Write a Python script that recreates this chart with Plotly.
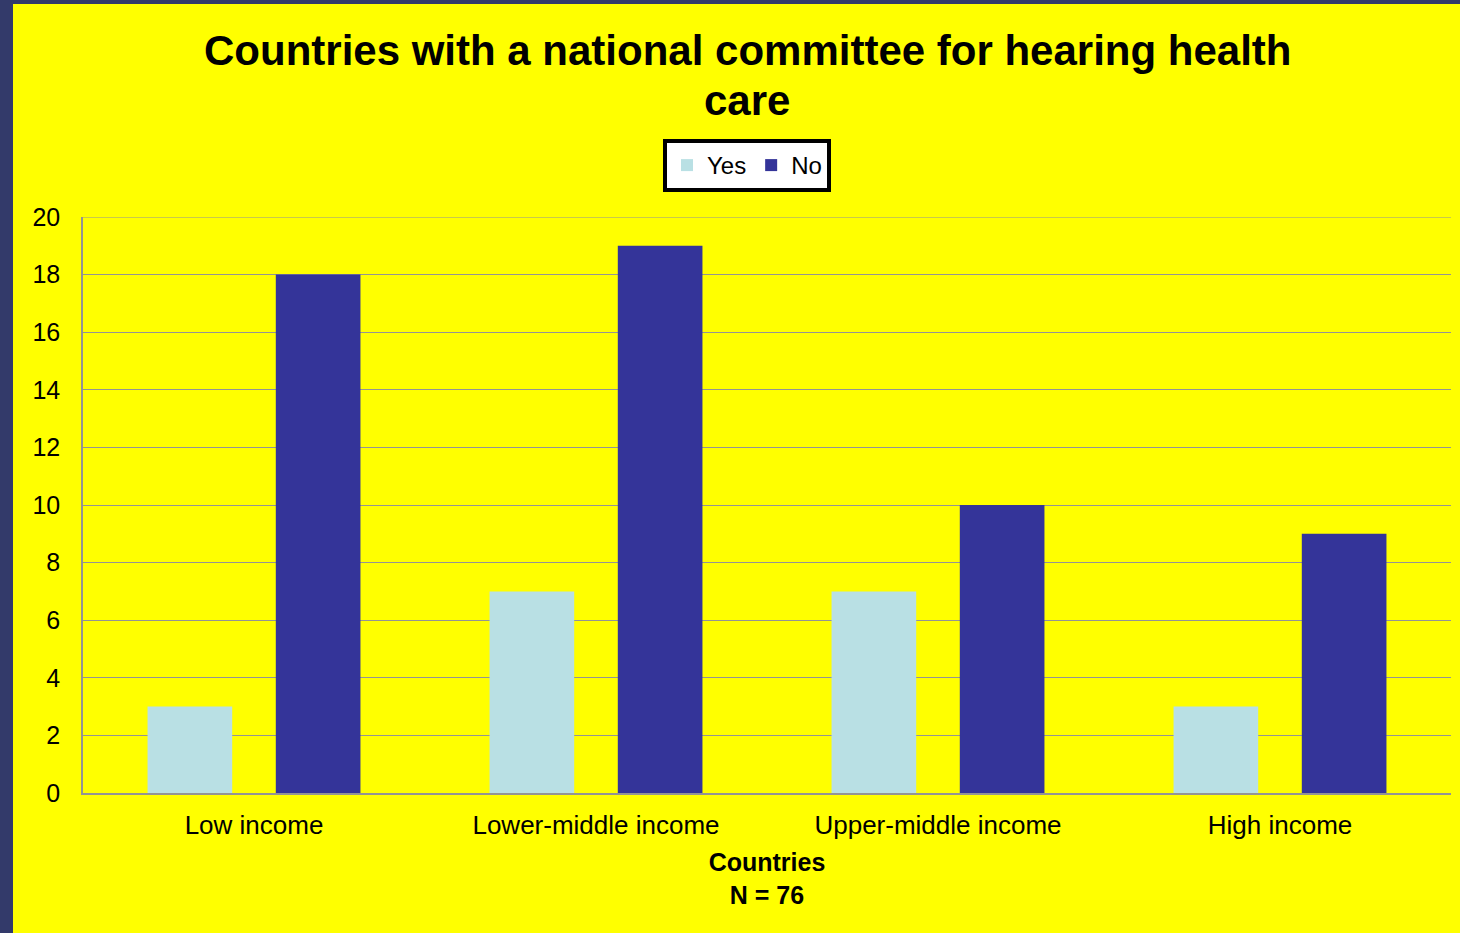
import plotly.graph_objects as go

# Income groups and counts of countries with / without a national committee
categories = ["Low income", "Lower-middle income", "Upper-middle income", "High income"]
yes_counts = [3, 7, 7, 3]
no_counts = [18, 19, 10, 9]
y_ticks = [0, 2, 4, 6, 8, 10, 12, 14, 16, 18, 20]
title_lines = ["Countries with a national committee for hearing health", "care"]

FONT = "Liberation Sans, Arial, sans-serif"
YES_COLOR = "#B9E0E4"
NO_COLOR = "#343499"
FRAME = "#333A6A"
GRID = "#949494"

W, H = 1460, 933
L, R, T, B = 83, 9, 217, 140
pw, ph = W - L - R, H - T - B


def px_x(p):
    return (p - L) / pw


def px_y(p):
    return (H - B - p) / ph


fig = go.Figure()
fig.add_trace(go.Bar(name="Yes", x=categories, y=yes_counts, marker_color=YES_COLOR,
                     marker_line_width=0))
fig.add_trace(go.Bar(name="No", x=categories, y=no_counts, marker_color=NO_COLOR,
                     marker_line_width=0))

# title set as two lines with a tighter line spacing
title_annotations = [
    dict(
        text=f"<b>{line}</b>",
        xref="paper", yref="paper",
        x=px_x(747), xanchor="center",
        y=px_y(50 + 50 * i), yanchor="middle",
        showarrow=False,
        font=dict(family=FONT, size=42, color="black"),
    )
    for i, line in enumerate(title_lines)
]

fig.update_layout(
    width=W, height=H,
    margin=dict(l=L, r=R, t=T, b=B),
    paper_bgcolor="#FFFF00",
    plot_bgcolor="#FFFF00",
    barmode="group",
    bargap=0.25,
    bargroupgap=0.34,
    font=dict(family=FONT, color="black"),
    legend=dict(
        orientation="h",
        x=px_x(747), xanchor="center",
        y=px_y(139), yanchor="top",
        bgcolor="white",
        bordercolor="black",
        borderwidth=4,
        font=dict(family=FONT, size=24, color="black"),
        itemwidth=30,
        tracegroupgap=0,
    ),
    xaxis=dict(
        showgrid=False,
        showline=True, linecolor=GRID, linewidth=1.5,
        tickfont=dict(family=FONT, size=26, color="black"),
        ticks="",
        ticklabelstandoff=8,
        title=dict(text="<b>Countries<br>N = 76</b>",
                   font=dict(family=FONT, size=25, color="black"), standoff=15),
    ),
    yaxis=dict(
        range=[0, 20],
        tickvals=y_ticks,
        showgrid=True, gridcolor=GRID, gridwidth=1,
        showline=True, linecolor=GRID, linewidth=1.5,
        zeroline=False,
        ticks="",
        ticklabelstandoff=16,
        tickfont=dict(family=FONT, size=25, color="black"),
    ),
    annotations=title_annotations,
    shapes=[
        # gridline along the top of the value axis
        dict(type="line", xref="paper", yref="y", layer="below",
             x0=0, x1=1, y0=y_ticks[-1], y1=y_ticks[-1],
             line=dict(color=GRID, width=1)),
        # dark frame strips along the left and top edges
        dict(type="rect", xref="paper", yref="paper", layer="above",
             x0=px_x(0), x1=px_x(13), y0=px_y(H), y1=px_y(0),
             fillcolor=FRAME, line_width=0),
        dict(type="rect", xref="paper", yref="paper", layer="above",
             x0=px_x(0), x1=px_x(W), y0=px_y(4), y1=px_y(0),
             fillcolor=FRAME, line_width=0),
    ],
)

fig.write_html("out.html")
